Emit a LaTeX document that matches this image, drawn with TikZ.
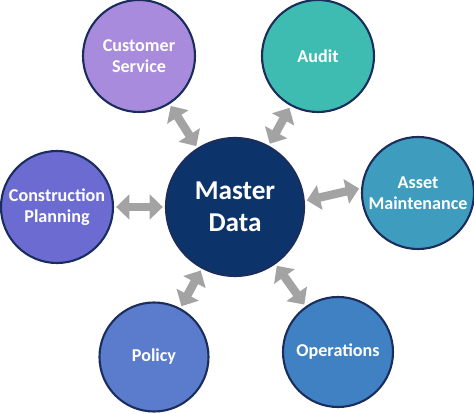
\documentclass[tikz,border=0pt]{standalone}
\usepackage{fontspec}
\setmainfont{Carlito}
\usetikzlibrary{arrows.meta}

\definecolor{rim}{HTML}{1B2D5C}
\definecolor{hub}{HTML}{0C346A}
\definecolor{lilac}{HTML}{A98BDD}
\definecolor{teal}{HTML}{3EBCB2}
\definecolor{sea}{HTML}{3E9DBE}
\definecolor{iris}{HTML}{6B6BD2}
\definecolor{cornflower}{HTML}{5B7CCC}
\definecolor{steel}{HTML}{3F81C2}
\definecolor{link}{HTML}{A3A3A3}

\begin{document}
\begin{tikzpicture}[x=0.2mm, y=-0.2mm,
  main/.style = {draw=rim, line width=1.2pt, circle, minimum size=2.24cm, inner sep=0pt,
    text=white, font=\bfseries\fontsize{10.3}{12}\selectfont, align=center},
  link/.style = {draw=link, line width=4.8pt, {Triangle[length=7.5pt,width=14pt]}-{Triangle[length=7.5pt,width=14pt]},
    shorten <=1.2pt, shorten >=1.2pt}]
\useasboundingbox (0,0) rectangle (474,414);
\node[main, fill=hub, minimum size=2.76cm, font=\bfseries\fontsize{15.5}{18.5}\selectfont] (0) at (235,207) {Master\\Data};
\node[main, fill=lilac] (1) at (139,56) {Customer\\Service};
\node[main, fill=teal] (2) at (318,56) {Audit};
\node[main, fill=sea] (3) at (418,193) {Asset\\Maintenance};
\node[main, fill=iris] (4) at (57,207) {Construction\\Planning};
\node[main, fill=cornflower, minimum size=2.18cm] (5) at (154,357) {Policy};
\node[main, fill=steel, minimum size=2.2cm] (6) at (338,352) {Operations};
\draw[link] (0) -- (1); \draw[link] (0) -- (2); \draw[link] (0.5) -- (3.175);
\draw[link] (0) -- (4); \draw[link] (0) -- (5); \draw[link] (0) -- (6);
\end{tikzpicture}
\end{document}
